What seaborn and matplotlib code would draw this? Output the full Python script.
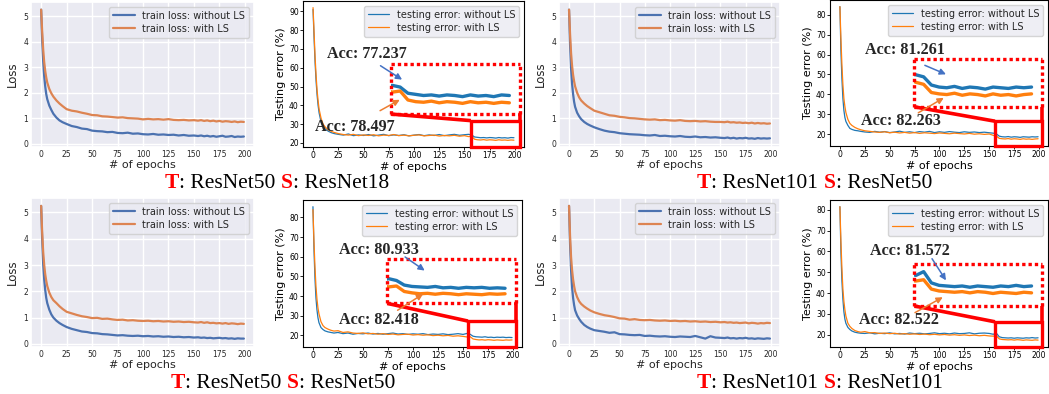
import numpy as np
import pandas as pd
import seaborn as sns
import matplotlib.pyplot as plt
from matplotlib.patches import Rectangle

EPOCHS = [0, 1, 2, 3, 4, 5, 6, 8, 10, 12, 15, 18, 21,
          25, 30, 35, 40, 45, 50, 55, 60, 65, 70, 75, 80, 85, 90, 95, 100,
          105, 110, 115, 120, 125, 130, 135, 140, 145, 150,
          154, 157, 160, 163, 166, 169, 172, 175, 178, 181, 184, 187, 190, 193, 196, 199]

# ---- T: ResNet50  S: ResNet18
loss_50_18_plain = [5.25, 4.10, 3.25, 2.65, 2.25, 1.95, 1.75, 1.50, 1.33, 1.18, 1.03, 0.92, 0.85,
                    0.78, 0.70, 0.66, 0.60, 0.58, 0.52, 0.50, 0.49, 0.46, 0.47, 0.43, 0.42, 0.44,
                    0.40, 0.41, 0.38, 0.37, 0.39, 0.36, 0.37, 0.35, 0.36, 0.33, 0.35, 0.32, 0.33,
                    0.31, 0.33, 0.30, 0.32, 0.29, 0.31, 0.28, 0.30, 0.32, 0.28, 0.29, 0.31, 0.27, 0.29, 0.28, 0.29]
loss_50_18_ls = [5.25, 4.40, 3.70, 3.20, 2.85, 2.60, 2.40, 2.15, 1.98, 1.85, 1.70, 1.58, 1.48,
                 1.36, 1.30, 1.27, 1.22, 1.18, 1.13, 1.12, 1.08, 1.07, 1.05, 1.03, 1.04, 1.01,
                 1.00, 0.99, 0.96, 0.98, 0.96, 0.97, 0.95, 0.97, 0.94, 0.93, 0.94, 0.92, 0.93,
                 0.91, 0.93, 0.90, 0.92, 0.89, 0.91, 0.88, 0.90, 0.87, 0.89, 0.88, 0.86, 0.88, 0.85, 0.87, 0.86]
err_50_18_plain = [91.0, 76.0, 63.0, 53.0, 45.5, 40.0, 36.0, 31.0, 29.0, 27.5, 26.3, 25.5, 25.0,
                   24.6, 24.2, 24.8, 23.9, 24.3, 24.0, 24.5, 23.8, 24.2, 24.6, 23.9, 24.3, 24.0,
                   24.4, 23.8, 24.2, 24.5, 23.9, 24.3, 24.0, 24.5, 23.9, 24.3, 24.6, 24.1, 24.4,
                   24.6, 24.3, 23.2, 23.0, 22.8, 22.9, 22.7, 22.9, 22.8, 22.6, 22.9, 22.7, 22.8, 22.6, 22.9, 22.8]
err_50_18_ls = [92.0, 79.0, 66.0, 56.0, 48.0, 42.5, 38.0, 33.0, 30.0, 28.5, 27.0, 26.2, 25.6,
                25.0, 24.5, 24.2, 24.6, 23.9, 24.3, 24.0, 24.4, 23.8, 24.2, 24.0, 24.5, 23.9,
                24.2, 23.8, 24.1, 24.3, 23.8, 24.0, 24.2, 23.7, 24.0, 23.8, 24.1, 23.6, 23.9,
                23.4, 23.6, 22.0, 21.7, 21.6, 21.8, 21.5, 21.7, 21.6, 21.4, 21.7, 21.5, 21.6, 21.4, 21.6, 21.5]

# ---- T: ResNet101  S: ResNet50
loss_101_50_plain = [5.25, 3.90, 2.95, 2.35, 1.95, 1.65, 1.45, 1.22, 1.08, 0.97, 0.86, 0.78, 0.72,
                     0.65, 0.58, 0.52, 0.48, 0.46, 0.42, 0.40, 0.38, 0.37, 0.36, 0.34, 0.33, 0.35,
                     0.31, 0.32, 0.30, 0.29, 0.31, 0.28, 0.27, 0.29, 0.26, 0.27, 0.25, 0.26, 0.24,
                     0.23, 0.25, 0.22, 0.24, 0.21, 0.23, 0.22, 0.24, 0.21, 0.22, 0.20, 0.23, 0.21, 0.22, 0.21, 0.22]
loss_101_50_ls = [5.25, 4.30, 3.55, 3.05, 2.70, 2.45, 2.25, 2.00, 1.82, 1.70, 1.58, 1.48, 1.40,
                  1.30, 1.24, 1.18, 1.12, 1.10, 1.06, 1.04, 1.01, 1.00, 0.98, 0.96, 0.95, 0.96,
                  0.93, 0.94, 0.92, 0.91, 0.93, 0.90, 0.89, 0.90, 0.88, 0.89, 0.87, 0.86, 0.86,
                  0.85, 0.87, 0.84, 0.85, 0.83, 0.84, 0.82, 0.83, 0.81, 0.83, 0.80, 0.82, 0.80, 0.81, 0.79, 0.80]
err_101_50_plain = [84.0, 62.0, 48.0, 38.0, 32.0, 28.5, 26.5, 24.5, 23.0, 22.5, 22.0, 21.8, 21.5,
                    21.2, 21.0, 21.5, 21.1, 21.4, 20.9, 21.2, 21.6, 21.0, 21.3, 20.9, 21.4, 21.1,
                    21.5, 20.9, 21.3, 21.0, 21.4, 21.1, 20.9, 21.3, 21.0, 21.2, 20.9, 21.1, 20.8,
                    20.6, 20.3, 19.1, 18.8, 18.7, 18.9, 18.6, 18.8, 18.7, 18.5, 18.8, 18.7, 18.6, 18.8, 18.7, 18.8]
err_101_50_ls = [84.0, 68.0, 55.0, 45.0, 38.0, 34.0, 31.0, 27.5, 25.5, 24.5, 23.5, 22.8, 22.3,
                 21.8, 21.5, 21.2, 21.0, 21.3, 20.8, 21.1, 20.7, 21.0, 20.6, 20.9, 20.5, 20.8,
                 20.6, 20.4, 20.7, 20.5, 20.3, 20.6, 20.4, 20.2, 20.5, 20.1, 20.3, 20.0, 20.2,
                 19.5, 19.2, 18.0, 17.8, 17.7, 17.9, 17.6, 17.8, 17.7, 17.5, 17.8, 17.6, 17.7, 17.5, 17.7, 17.8]

# ---- T: ResNet50  S: ResNet50
loss_50_50_plain = [5.25, 4.00, 3.05, 2.45, 2.05, 1.75, 1.55, 1.30, 1.12, 1.00, 0.88, 0.79, 0.72,
                    0.64, 0.57, 0.52, 0.47, 0.45, 0.41, 0.40, 0.37, 0.36, 0.34, 0.32, 0.33, 0.31,
                    0.30, 0.31, 0.29, 0.30, 0.28, 0.29, 0.27, 0.28, 0.26, 0.27, 0.25, 0.26, 0.24,
                    0.25, 0.23, 0.24, 0.22, 0.23, 0.21, 0.22, 0.23, 0.21, 0.22, 0.20, 0.21, 0.19, 0.21, 0.20, 0.20]
loss_50_50_ls = [5.25, 4.25, 3.50, 3.00, 2.65, 2.40, 2.20, 1.95, 1.78, 1.66, 1.55, 1.43, 1.33,
                 1.22, 1.16, 1.10, 1.05, 1.02, 0.98, 0.99, 0.95, 0.96, 0.93, 0.91, 0.92, 0.89,
                 0.90, 0.88, 0.87, 0.88, 0.86, 0.87, 0.85, 0.86, 0.84, 0.85, 0.83, 0.84, 0.82,
                 0.81, 0.83, 0.80, 0.82, 0.79, 0.80, 0.78, 0.79, 0.77, 0.79, 0.76, 0.78, 0.77, 0.75, 0.77, 0.76]
err_50_50_plain = [85.5, 64.0, 49.0, 39.0, 33.0, 29.0, 26.5, 24.0, 23.0, 22.3, 21.8, 21.5, 21.2,
                   21.5, 20.9, 21.2, 20.6, 21.0, 20.8, 21.2, 20.7, 21.0, 20.6, 20.9, 21.2, 20.7,
                   20.9, 20.5, 20.8, 20.6, 20.9, 20.4, 20.7, 20.5, 20.8, 20.4, 20.6, 20.9, 20.5,
                   21.0, 20.6, 19.6, 19.3, 19.2, 19.1, 19.3, 19.0, 19.1, 18.9, 19.1, 19.0, 19.1, 18.9, 19.0, 18.9]
err_50_50_ls = [84.0, 68.0, 55.0, 45.0, 38.5, 34.0, 31.0, 27.0, 25.0, 24.0, 23.2, 22.6, 22.2,
                22.4, 21.5, 21.8, 21.2, 21.0, 21.3, 20.8, 21.0, 20.6, 20.9, 20.5, 20.7, 20.3,
                20.5, 20.6, 20.2, 20.4, 20.1, 20.3, 19.9, 20.1, 19.8, 20.0, 19.6, 19.8, 19.5,
                19.2, 19.4, 18.2, 17.9, 17.7, 17.8, 17.6, 17.8, 17.7, 17.5, 17.7, 17.6, 17.5, 17.7, 17.6, 17.7]

# ---- T: ResNet101  S: ResNet101
loss_101_101_plain = [5.25, 3.80, 2.80, 2.15, 1.75, 1.48, 1.28, 1.08, 0.95, 0.84, 0.72, 0.64, 0.58,
                      0.52, 0.49, 0.46, 0.42, 0.44, 0.37, 0.36, 0.34, 0.33, 0.34, 0.30, 0.31, 0.29,
                      0.28, 0.29, 0.27, 0.26, 0.28, 0.27, 0.26, 0.30, 0.25, 0.20, 0.29, 0.24, 0.23,
                      0.22, 0.24, 0.21, 0.22, 0.20, 0.22, 0.21, 0.23, 0.20, 0.21, 0.19, 0.21, 0.20, 0.19, 0.21, 0.20]
loss_101_101_ls = [5.25, 4.10, 3.30, 2.80, 2.45, 2.20, 2.00, 1.78, 1.62, 1.52, 1.42, 1.34, 1.27,
                   1.20, 1.14, 1.09, 1.06, 1.02, 0.97, 0.96, 0.92, 0.94, 0.91, 0.90, 0.91, 0.89,
                   0.88, 0.89, 0.87, 0.88, 0.86, 0.87, 0.85, 0.86, 0.84, 0.85, 0.83, 0.84, 0.82,
                   0.83, 0.81, 0.82, 0.80, 0.81, 0.79, 0.80, 0.81, 0.78, 0.80, 0.79, 0.77, 0.79, 0.78, 0.80, 0.79]
err_101_101_plain = [81.5, 60.0, 46.0, 37.0, 31.0, 27.5, 25.5, 23.5, 22.5, 21.8, 21.2, 20.9, 20.7,
                     20.6, 20.9, 20.4, 20.7, 20.5, 20.9, 20.4, 20.6, 20.3, 20.8, 20.5, 20.7, 20.4,
                     20.6, 20.9, 20.5, 20.7, 20.4, 20.8, 20.5, 20.6, 20.9, 20.4, 20.7, 20.8, 20.6,
                     20.2, 20.8, 19.0, 18.6, 18.5, 18.4, 18.5, 18.3, 18.5, 18.4, 18.3, 18.5, 18.4, 18.6, 18.4, 18.5]
err_101_101_ls = [81.5, 65.0, 52.0, 42.0, 36.0, 32.0, 29.0, 25.5, 24.0, 23.0, 22.0, 21.5, 21.2,
                  21.5, 20.9, 21.0, 20.6, 20.8, 20.5, 20.7, 20.3, 20.5, 20.2, 20.4, 20.1, 20.3,
                  20.0, 20.2, 19.9, 20.1, 19.8, 20.0, 19.7, 19.9, 19.6, 19.8, 19.5, 19.7, 19.4,
                  19.3, 19.5, 18.0, 17.7, 17.6, 17.5, 17.6, 17.4, 17.6, 17.5, 17.3, 17.5, 17.4, 17.3, 17.5, 17.4]

ACC_LABELS = [("Acc: 77.237", "Acc: 78.497"), ("Acc: 81.261", "Acc: 82.263"),
              ("Acc: 80.933", "Acc: 82.418"), ("Acc: 81.572", "Acc: 82.522")]
CAPTIONS = [("ResNet50", "ResNet18"), ("ResNet101", "ResNet50"),
            ("ResNet50", "ResNet50"), ("ResNet101", "ResNet101")]

sns.set_theme(style="darkgrid")
plt.rcParams['font.family'] = ['DejaVu Sans']

W, H = 1049, 394
fig = plt.figure(figsize=(W / 100, H / 100), dpi=100)


def px_axes(left, top, right, bottom):
    return fig.add_axes([left / W, 1 - bottom / H, (right - left) / W, (bottom - top) / H])


# pixel boxes of the axes (left, top, right, bottom)
LOSS_BOX = [(31, 2, 254, 147), (559, 2, 780, 147), (31, 198, 254, 347), (559, 198, 780, 347)]
ERR_BOX = [(303, 1, 524, 147), (830, 0, 1048, 146), (303, 200, 522, 347), (830, 200, 1048, 347)]

# zoom decorations in data coords of the error axes
DECO = [
    dict(box=(77, 35.4, 205, 62), rect=(156.3, 205, 31.9), t1=(14.1, 65.2), t2=(1.7, 26.5),
         ab=((66.8, 61.1), (88.2, 53.7)), ao=((66.4, 37.2), (85.9, 43)), iy=(19.5, 28.4)),
    dict(box=(74.8, 33.8, 203, 57.7), rect=(155.7, 203, 26.6), t1=(25.6, 60.5), t2=(21.3, 24.9),
         ab=((85.3, 54.6), (106.5, 50.1)), ao=((78.7, 30.8), (104.3, 38.3)), iy=(15.9, 22.9)),
    dict(box=(74.2, 36.3, 202.6, 59.1), rect=(154.9, 202.6, 27.3), t1=(26.1, 61.6), t2=(26.1, 25.6),
         ab=((92.1, 59.9), (111.7, 53.0)), ao=((84.6, 32.8), (110.1, 41.1)), iy=(15.6, 25.4)),
    dict(box=(74.8, 33.8, 203, 54.2), rect=(155.7, 203, 26.2), t1=(30.2, 58.1), t2=(19.0, 24.9),
         ab=((92.5, 56.5), (106.5, 46.1)), ao=((75.4, 30.6), (103.3, 38.0)), iy=(15.3, 22.1)),
]

losses = [(loss_50_18_plain, loss_50_18_ls), (loss_101_50_plain, loss_101_50_ls),
          (loss_50_50_plain, loss_50_50_ls), (loss_101_101_plain, loss_101_101_ls)]
errors = [(err_50_18_plain, err_50_18_ls), (err_101_50_plain, err_101_50_ls),
          (err_50_50_plain, err_50_50_ls), (err_101_101_plain, err_101_101_ls)]

deep = sns.color_palette("deep")
RED = "#ff0000"
XT = [0, 25, 50, 75, 100, 125, 150, 175, 200]

for i in range(4):
    # train loss panel (darkgrid)
    ax = px_axes(*LOSS_BOX[i])
    sns.lineplot(x=EPOCHS, y=losses[i][0], ax=ax, color=deep[0], lw=1.6, label="train loss: without LS")
    sns.lineplot(x=EPOCHS, y=losses[i][1], ax=ax, color=deep[1], lw=1.6, label="train loss: with LS")
    ax.set_xticks(XT)
    ax.set_ylim(-0.12, 5.55)
    ax.tick_params(labelsize=5.5, length=0, pad=2)
    ax.set_ylabel("Loss", fontsize=8.5, labelpad=3)
    ax.set_xlabel("# of epochs", fontsize=8, labelpad=1)
    ax.legend(loc="upper right", fontsize=7, handlelength=2.2, borderpad=0.4, labelspacing=0.3)

    # testing error panel (plain white)
    with sns.axes_style("ticks", {"axes.edgecolor": "black", "xtick.color": "black",
                                  "ytick.color": "black", "axes.labelcolor": "black",
                                  "text.color": "black"}):
        ax2 = px_axes(*ERR_BOX[i])
    sns.lineplot(x=EPOCHS, y=errors[i][0], ax=ax2, color="tab:blue", lw=0.9, label="testing error: without LS")
    sns.lineplot(x=EPOCHS, y=errors[i][1], ax=ax2, color="tab:orange", lw=0.9, label="testing error: with LS")
    ax2.set_xticks(XT)
    ax2.tick_params(labelsize=5.5, length=2, width=0.6, pad=1)
    for sp in ax2.spines.values():
        sp.set_linewidth(0.8)
    ax2.set_ylabel("Testing error (%)", fontsize=8, labelpad=2)
    ax2.set_xlabel("# of epochs", fontsize=8, labelpad=1)
    ax2.legend(loc="upper right", fontsize=7, handlelength=2.2, borderpad=0.4, labelspacing=0.3,
               edgecolor="0.8")
    x_lo, x_hi = ax2.get_xlim()
    y_lo, y_hi = ax2.get_ylim()
    ax2.set_xlim(x_lo, x_hi)
    ax2.set_ylim(y_lo, y_hi)

    d = DECO[i]
    bx0, by0, bx1, by1 = d["box"]
    rx0, rx1, rtop = d["rect"]
    ax2.add_patch(Rectangle((rx0, y_lo), rx1 - rx0, rtop - y_lo, fill=False,
                            ec=RED, lw=2.4, zorder=6, clip_on=False))
    ax2.plot([bx0, rx0], [by0, rtop], color=RED, lw=2.6, zorder=6, solid_capstyle="butt")
    ax2.plot([bx1, rx1], [by0, rtop], color=RED, lw=2.6, zorder=6, solid_capstyle="butt")

    axin = ax2.inset_axes([bx0, by0, bx1 - bx0, by1 - by0], transform=ax2.transData, zorder=5)
    sns.lineplot(x=EPOCHS, y=errors[i][0], ax=axin, color="tab:blue", lw=2.4, legend=False)
    sns.lineplot(x=EPOCHS, y=errors[i][1], ax=axin, color="tab:orange", lw=2.4, legend=False)
    axin.set_xlim(153.4, 203.1)
    axin.set_ylim(*d["iy"])
    axin.set_xticks([])
    axin.set_yticks([])
    axin.set_xlabel("")
    axin.set_ylabel("")
    axin.set_facecolor("white")
    for sp in axin.spines.values():
        sp.set_edgecolor(RED)
        sp.set_linewidth(2.4)
        sp.set_linestyle((0, (1, 0.9)))
        sp.set_capstyle("butt")

    acc1, acc2 = ACC_LABELS[i]
    ax2.text(*d["t1"], acc1, fontfamily="Liberation Serif", fontweight="bold", fontsize=11.6,
             ha="left", va="baseline", zorder=7)
    ax2.text(*d["t2"], acc2, fontfamily="Liberation Serif", fontweight="bold", fontsize=11.6,
             ha="left", va="baseline", zorder=7)
    ax2.annotate("", xy=d["ab"][1], xytext=d["ab"][0], zorder=7,
                 arrowprops=dict(arrowstyle="-|>", color="#4472c4", lw=1.1, mutation_scale=9,
                                 shrinkA=0, shrinkB=0))
    ax2.annotate("", xy=d["ao"][1], xytext=d["ao"][0], zorder=7,
                 arrowprops=dict(arrowstyle="-|>", color="#ed7d31", lw=1.1, mutation_scale=9,
                                 shrinkA=0, shrinkB=0))

# captions with red bold T / S
renderer = fig.canvas.get_renderer()
CAP_POS = [(165, 188), (697, 188), (171, 388), (697, 388)]
for (t_name, s_name), (cx, cy) in zip(CAPTIONS, CAP_POS):
    x = cx / W
    parts = [("T", RED, "bold"), (": " + t_name + " ", "black", "normal"),
             ("S", RED, "bold"), (": " + s_name, "black", "normal")]
    for s, c, w in parts:
        t = fig.text(x, 1 - cy / H, s, color=c, fontweight=w, fontsize=15.5,
                     fontfamily="Liberation Serif", ha="left", va="baseline")
        x += t.get_window_extent(renderer).width / fig.bbox.width

fig.savefig("out.png", dpi=100)
